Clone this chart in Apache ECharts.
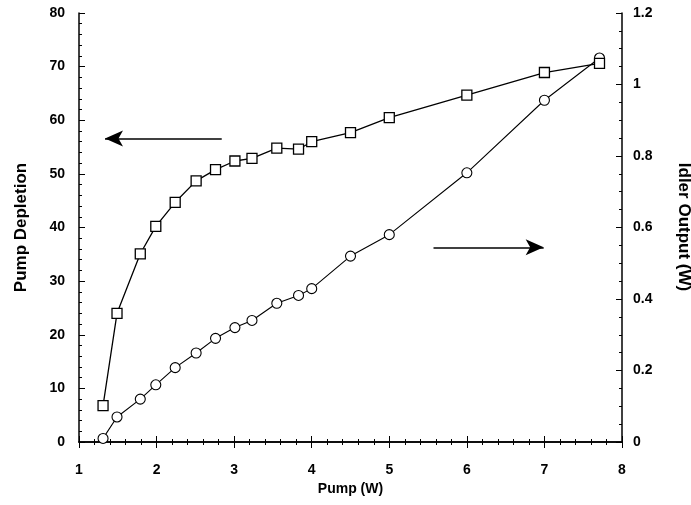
<!DOCTYPE html>
<html>
<head>
<meta charset="utf-8">
<script src="https://cdn.jsdelivr.net/npm/echarts@6/dist/echarts.min.js"></script>
<style>html,body{margin:0;padding:0;background:#fff}#c{width:691px;height:505px}</style>
</head>
<body>
<div id="c"></div>
<script>
// Data
var pump = [1.31, 1.49, 1.79, 1.99, 2.24, 2.51, 2.76, 3.01, 3.23, 3.55, 3.83, 4.0, 4.5, 5.0, 6.0, 7.0, 7.71];
var depletion = [6.8, 24.0, 35.1, 40.2, 44.7, 48.7, 50.8, 52.4, 52.9, 54.8, 54.6, 56.0, 57.7, 60.5, 64.7, 68.9, 70.6];
var idler = [0.01, 0.07, 0.12, 0.16, 0.208, 0.249, 0.29, 0.32, 0.34, 0.388, 0.41, 0.429, 0.52, 0.58, 0.753, 0.956, 1.074];
var xTitle = 'Pump (W)';
var yLeftTitle = 'Pump Depletion';
var yRightTitle = 'Idler Output (W)';
// annotation arrows (data coords on left axis): [fromX, toX, y]
var arrowLeft = [2.84, 1.335, 56.6];
var arrowRight = [5.57, 6.99, 36.3];

var font = 'Liberation Sans, Arial, sans-serif';
function pairs(xs, ys){ return xs.map(function(x,i){ return [x, ys[i]]; }); }

var chart = echarts.init(document.getElementById('c'), null, {renderer:'canvas'});
var axisLine = {show:true, lineStyle:{color:'#000', width:1.5}};
var lbl = {color:'#000', fontFamily:font, fontWeight:'bold', fontSize:14};
var titleStyle = {color:'#000', fontFamily:font, fontWeight:'bold', fontSize:14};
var vTitleStyle = {color:'#000', fontFamily:font, fontWeight:'bold', fontSize:17};
chart.setOption({
  animation:false,
  backgroundColor:'#fff',
  grid:{left:79, right:69, top:13, bottom:63},
  graphic:[{
    type:'text', x:684, y:227, rotation:-Math.PI/2, silent:true,
    style:{text:yRightTitle, fill:'#000', font:'bold 17px Liberation Sans, Arial, sans-serif',
      align:'center', verticalAlign:'middle'}
  }],
  xAxis:[{
    type:'value', min:1, max:8, interval:1, position:'bottom',
    axisLine:axisLine,
    axisTick:{show:true, inside:true, length:6, lineStyle:{color:'#000', width:1}},
    minorTick:{show:true, splitNumber:5, length:3, lineStyle:{color:'#000', width:1}},
    axisLabel:Object.assign({margin:21}, lbl),
    splitLine:{show:false},
    name:xTitle, nameLocation:'middle', nameGap:39,
    nameTextStyle:titleStyle
  },{
    type:'value', min:1, max:8, interval:1, position:'top',
    axisLine:axisLine,
    axisTick:{show:true, inside:true, length:6, lineStyle:{color:'#000', width:1}},
    minorTick:{show:true, splitNumber:5, length:3, lineStyle:{color:'#000', width:1}},
    axisLabel:{show:false}, splitLine:{show:false}
  }],
  yAxis:[{
    type:'value', min:0, max:80, interval:10, position:'left',
    axisLine:axisLine,
    axisTick:{show:true, inside:true, length:6, lineStyle:{color:'#000', width:1}},
    minorTick:{show:true, splitNumber:5, length:3, lineStyle:{color:'#000', width:1}},
    axisLabel:Object.assign({margin:14}, lbl),
    splitLine:{show:false},
    name:yLeftTitle, nameLocation:'middle', nameGap:49, nameRotate:90,
    nameTextStyle:vTitleStyle
  },{
    type:'value', min:0, max:1.2, interval:0.2, position:'right',
    axisLine:axisLine,
    axisTick:{show:true, inside:true, length:6, lineStyle:{color:'#000', width:1}},
    minorTick:{show:true, splitNumber:4, length:3, lineStyle:{color:'#000', width:1}},
    axisLabel:Object.assign({margin:11}, lbl),
    splitLine:{show:false}
  }],
  series:[{
    name:'Pump Depletion', type:'line', xAxisIndex:0, yAxisIndex:0,
    data:pairs(pump, depletion),
    symbol:'rect', symbolSize:10, showAllSymbol:true,
    lineStyle:{color:'#000', width:1.3},
    itemStyle:{color:'#fff', borderColor:'#000', borderWidth:1.3},
    z:3,
    markLine:{
      silent:true, animation:false,
      label:{show:false},
      symbol:['none','arrow'], symbolSize:[12,18],
      lineStyle:{color:'#000', width:1.6, type:'solid'},
      emphasis:{disabled:true},
      data:[
        [{coord:[arrowLeft[0], arrowLeft[2]]},{coord:[arrowLeft[1], arrowLeft[2]]}],
        [{coord:[arrowRight[0], arrowRight[2]]},{coord:[arrowRight[1], arrowRight[2]]}]
      ]
    }
  },{
    name:'Idler Output', type:'line', xAxisIndex:0, yAxisIndex:1,
    data:pairs(pump, idler),
    symbol:'circle', symbolSize:10, showAllSymbol:true,
    lineStyle:{color:'#000', width:1.1},
    itemStyle:{color:'#fff', borderColor:'#000', borderWidth:1.1},
    z:2
  }]
});
</script>
</body>
</html>
